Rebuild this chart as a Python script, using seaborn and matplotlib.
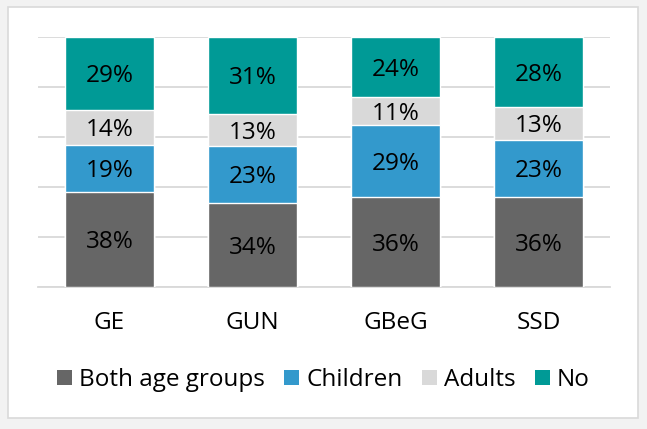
import pandas as pd
import matplotlib
matplotlib.use("Agg")
import matplotlib.pyplot as plt
import seaborn as sns
from matplotlib.patches import Patch, Rectangle

# Data
sites = ["GE", "GUN", "GBeG", "SSD"]
groups = ["Both age groups", "Children", "Adults", "No"]
both = [38, 34, 36, 36]
children = [19, 23, 29, 23]
adults = [14, 13, 11, 13]
no = [29, 31, 24, 28]
colors = ["#666666", "#3399cc", "#d9d9d9", "#009a96"]

df = pd.DataFrame({"site": sites, "Both age groups": both, "Children": children,
                   "Adults": adults, "No": no})

# 100% stacked: normalise each column, then cumulate
totals = df[groups].sum(axis=1)
shares = df[groups].div(totals, axis=0) * 100
cum = shares.cumsum(axis=1)

sns.set_theme(style="white")
plt.rcParams["font.family"] = ["Open Sans", "DejaVu Sans"]
plt.rcParams["text.color"] = "black"

fs = 17.5

fig = plt.figure(figsize=(6.47, 4.29), dpi=100, facecolor="#f2f2f2")
fig.patches.append(Rectangle((8 / 647, 11 / 429), 630 / 647, 411 / 429,
                             transform=fig.transFigure, facecolor="white",
                             edgecolor="#d9d9d9", linewidth=1.2, zorder=-5))
ax = fig.add_axes([38 / 647, 1 - 287 / 429, 572 / 647, 250 / 429])
ax.set_zorder(2)
ax.set_facecolor("none")

# draw from the top segment down so lower layers cover upper ones
for g, c in reversed(list(zip(groups, colors))):
    sns.barplot(x=df["site"], y=cum[g], color=c, width=0.62, ax=ax,
                saturation=1, zorder=3)

# labels in the middle of each segment
for i in range(len(sites)):
    for j, g in enumerate(groups):
        top = cum[g].iloc[i]
        mid = top - shares[g].iloc[i] / 2
        ax.text(i, mid, f"{df[g].iloc[i]}%", ha="center", va="center_baseline",
                fontsize=fs, color="black", zorder=5)

ax.set_ylim(0, 100)
ax.set_xlim(-0.5, 3.5)
ax.set_yticks([0, 20, 40, 60, 80, 100])
ax.set_yticklabels([])
ax.grid(axis="y", color="#d9d9d9", linewidth=1.3, zorder=0)
ax.set_axisbelow(True)
ax.set_xlabel("")
ax.set_ylabel("")
sns.despine(ax=ax, left=True, top=True, right=True)
ax.spines["bottom"].set_color("#d9d9d9")
ax.spines["bottom"].set_linewidth(1.3)
ax.tick_params(axis="x", length=0, labelsize=fs, pad=17, colors="black")
ax.tick_params(axis="y", length=0)

handles = [Patch(facecolor=c, edgecolor="none") for c in colors]
fig.legend(handles, groups, loc="center", bbox_to_anchor=(0.5, 1 - 380 / 429),
           ncol=4, frameon=False, fontsize=fs, handlelength=0.6,
           handleheight=0.6, handletextpad=0.3, columnspacing=0.8)

plt.savefig("out.png", dpi=100, facecolor=fig.get_facecolor())
